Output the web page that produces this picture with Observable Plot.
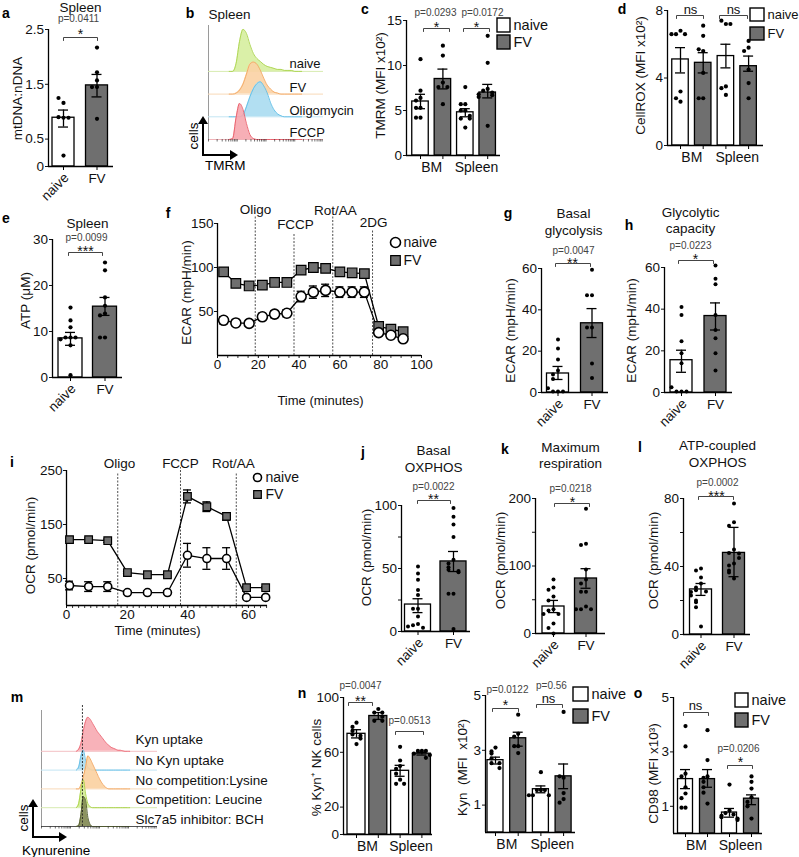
<!DOCTYPE html>
<html><head><meta charset="utf-8">
<script src="https://cdn.jsdelivr.net/npm/d3@7"></script>
<script src="https://cdn.jsdelivr.net/npm/@observablehq/plot@0.6"></script>
<style>
body{margin:0;background:#fff;}
#fig{position:relative;width:799px;height:857px;overflow:hidden;background:#fff;font-family:"Liberation Sans",Arial,Helvetica,sans-serif;}
#fig svg{position:absolute;overflow:visible;max-width:none;}
</style></head><body><div id="fig"></div>
<script>
// ================= DATA =================
const conds = ["naive", "FV"];
const tissues = ["BM", "Spleen"];
// a: mtDNA:nDNA, spleen
const aDots = [[1.16,1.25,0.89,0.90,0.89,0.20],[2.17,1.72,1.57,1.45,1.45,0.87]];
const aMean = [0.89,1.48];
const aErr = [[0.72,1.03],[1.27,1.68]];
// b: TMRM histograms (counts on a common fluorescence grid)
const bGrid = [18,21,24,27,30,33,36,39,42,45,48,51,54,57,60,63,66,69,72,75,78,81];
const bNaive = [0,0,8,30,42,38,27,18,13,10,7,5,4,3,2,2,1,1,1,0,0,0];
const bFV    = [0,0,1,4,10,20,30,32,30,24,16,9,5,2,1,0,0,0,0,0,0,0];
const bOligo = [0,0,0,0,2,10,20,28,33,35,31,24,14,7,3,1,0,0,0,0,0,0];
const bFCCP  = [0,1,22,36,30,16,5,1,0,0,0,0,0,0,0,0,0,0,0,0,0,0];
const bLabels = ["naive","FV","Oligomycin","FCCP"];
// c: TMRM MFI (order: naive BM, FV BM, naive Spleen, FV Spleen)
const cDots = [[10.7,7.2,6.4,6.1,5.3,5.3,4.2,4.2],[12.2,11.1,8.1,7.6,7.6,5.7],[7.6,5.7,5.7,5.0,5.0,4.4,4.1,4.1,3.1],[13.3,10.3,7.4,7.2,7.0,6.7,6.8,6.5,3.3]];
const cMean = [6.0,8.5,4.8,7.0];
const cErr = [[5.2,6.8],[7.4,9.6],[4.3,5.2],[6.4,7.9]];
const cP = ["p=0.0293","p=0.0172"];
// d: CellROX
const dDots = [[6.8,6.6,6.6,6.6,3.2,2.6,2.8],[7.1,6.5,5.6,5.7,4.3,2.8,2.8],[7.2,7.4,7.2,3.5,3.4,3.0],[6.2,5.8,5.6,4.5,3.7,2.8]];
const dMean = [5.1,4.9,5.3,4.7];
const dErr = [[4.3,5.8],[4.3,5.5],[4.6,6.0],[4.4,5.3]];
// e: ATP
const eDots = [[15.2,12.4,10.9,8.7,8.7,8.7,8.3,7.0,0.5],[25,23.3,17.4,15.6,13.9,13.5,8.7,8.7]];
const eMean = [8.5,15.4];
const eErr = [[7.0,9.8],[13.5,17.4]];
// f: ECAR time course
const fTime = [3,9,15.5,22,28,34,41,47,53,60,66,72,79,85,91];
const fNaive = [40,37,36.5,44,47,48,67,72,74,72,72,72,26,23,19];
const fNaiveErr = [4,3,3,4,4,4,6,7,7,6,6,6,3,3,3];
const fFV = [95,82,79,80,83,83,97,100,99,95,94,93,33,30,27];
const fFVErr = [3,2,2,2,2,2,2,2,2,2,2,2,2,2,2];
const fInj = ["Oligo","FCCP","Rot/AA","2DG"];
const fInjTime = [18.5,37.5,56.5,76];
// g: basal glycolysis
const gDots = [[25.6,21.3,16,10.6,8.7,6.5,0.5,0.5,0.5,2],[59.4,47,47,31.4,31.4,14,7]];
const gMean = [9.2,33.5];
const gErr = [[6.3,12.6],[26.6,40.6]];
// h: glycolytic capacity
const hDots = [[41,37.2,24.6,18.8,14,0.5,0.5,0.5,2.5],[61,52,54.6,37.2,30,26,18.8,10.6]];
const hMean = [15.5,36.7];
const hErr = [[9.7,20.3],[30,43]];
// i: OCR time course
const iTime = [1,7.3,13.6,20.1,26.7,33.3,39.9,46.3,52.8,59.4,65.7];
const iNaive = [37,35,35,24,24,24,93,87,87,15,15];
const iNaiveErr = [8,9,9,3,3,3,22,20,20,2,2];
const iFV = [122,122,120,61,57,57,202,183,165,33,33];
const iFVErr = [3,3,3,2,2,2,12,9,7,2,2];
const iInj = ["Oligo","FCCP","Rot/AA"];
const iInjTime = [16.9,37.6,56];
// j: basal OXPHOS
const jDots = [[51.6,46,41,33,29,18,18,12,6,5,3,4],[98,91,85,75,57,54,51,49,48,47,30,30,2]];
const jMean = [21.4,55.6];
const jErr = [[15,26],[47.6,63.5]];
// k: maximum respiration
const kDots = [[80,68,65,55,49,36,34,29,29,15,8,0],[185,133,131,95,80,74,62,62,40,36,36,36]];
const kMean = [40,81.5];
const kErr = [[31,49],[67,96]];
// l: ATP-coupled OXPHOS
const lDots = [[38.8,37.6,33.5,30,27.6,26,25.3,25,23,20,19,16,4.7],[77,66,64,50,48,47.6,45,41.8,40.6,37.6,36.5,33]];
const lMean = [26.5,48];
const lErr = [[23,30],[34,63]];
// m: kynurenine histograms
const mGrid = [30,32,34,36,38,40,42,44,46,48,50,52,54,56,58,60,62,64,66,68,70,72,74,76];
const mKyn    = [0,2,8,20,30,34,32,28,24,20,17,14,11,8,6,4,3,2,1,1,0.5,0,0,0];
const mNoKyn  = [0,3,14,20,10,3,1,0,0,0,0,0,0,0,0,0,0,0,0,0,0,0,0,0];
const mNoComp = [0,0,4,12,22,33,30,25,20,15,10,6,3,1,0,0,0,0,0,0,0,0,0,0];
const mComp   = [0,4,18,28,14,4,1,0,0,0,0,0,0,0,0,0,0,0,0,0,0,0,0,0];
const mSlc    = [0,1,12,30,26,9,2,0,0,0,0,0,0,0,0,0,0,0,0,0,0,0,0,0];
const mLabels = ["Kyn uptake","No Kyn uptake","No competition:Lysine","Competition: Leucine","Slc7a5 inhibitor: BCH"];
const mGate = 35.3;
// n (left): % Kyn+ NK cells
const n1Dots = [[81.6,78.5,75.6,73,72,70,66],[91.6,89,89,86,83,83],[64,54,50,48,44.4,40,37,37],[61,61,61,59,58,56]];
const n1Mean = [73.5,86.5,46.5,59];
const n1Err = [[70.5,76.5],[84,89],[42.5,50.5],[58,60]];
// n (right): Kyn MFI
const n2Dots = [[3.1,2.96,2.88,2.7,2.53,2.53,2.35],[4.3,3.6,3.5,3.15,3.15,2.9],[2.2,1.55,1.55,1.55,1.36,1.36,1.36],[4.4,2.0,2.05,1.44,1.22,1.09]];
const n2Mean = [2.64,3.44,1.58,2.05];
const n2Err = [[2.5,2.75],[3.15,3.66],[1.45,1.7],[1.6,2.5]];
// o: CD98
const oDots = [[3.95,3.2,2.2,2.1,1.7,1.47,1.3,0.95,0.95],[3.8,2.7,2.1,2.05,1.9,1.7,1.5,1.1],[1.8,0.85,0.75,0.7,0.65,0.6,0.55,0.5],[2.1,1.9,1.65,1.33,1.16,1.0,0.55]];
const oMean = [2.0,2.0,0.77,1.28];
const oErr = [[1.65,2.35],[1.7,2.35],[0.6,0.92],[1.06,1.42]];

// ================= HELPERS =================
const FONT = '"Liberation Sans", Arial, Helvetica, sans-serif';
const GRAY = "#6f6f6f";
const fig = document.getElementById("fig");

function conv(f) {
  const sx = (f.xdom[1]-f.xdom[0])/(f.x1-f.x0), sy = (f.ydom[1]-f.ydom[0])/(f.y0-f.y1);
  return { X: px => f.xdom[0] + (px - f.x0)*sx, Y: py => f.ydom[0] + (f.y0 - py)*sy,
           DX: px => px*sx, DY: py => py*sy };
}
function render(f, marks, xo, yo, fs) {
  const M = 40;
  const svg = Plot.plot({
    width: f.x1 - f.x0 + 2*M, height: f.y0 - f.y1 + 2*M,
    marginLeft: M, marginRight: M, marginTop: M, marginBottom: M,
    style: {background: "transparent", overflow: "visible", fontFamily: FONT, fontSize: (fs||13.5) + "px", color: "#111"},
    x: Object.assign({domain: f.xdom, axis: null}, xo || {}),
    y: Object.assign({domain: f.ydom, axis: null}, yo || {}),
    marks
  });
  svg.style.position = "absolute";
  svg.style.left = (f.x0 - M) + "px";
  svg.style.top = (f.y1 - M) + "px";
  fig.appendChild(svg);
}
function texts(C, items, o) {
  return Plot.text(items.map(([t, px, py]) => ({t, x: C.X(px), y: C.Y(py)})),
    Object.assign({x: "x", y: "y", text: "t", fill: "#111"}, o || {}));
}
function bracket(C, xa, xb, py, drop) {
  const d = drop == null ? 3 : drop;
  return Plot.line([[C.X(xa), C.Y(py + d)], [C.X(xa), C.Y(py)], [C.X(xb), C.Y(py)], [C.X(xb), C.Y(py + d)]],
    {x: d => d[0], y: d => d[1], stroke: "#444", strokeWidth: 1});
}
function box(C, x1, x2, y1, y2, fill) {
  return Plot.rect([{}], {x1: () => C.X(x1), x2: () => C.X(x2), y1: () => C.Y(y2), y2: () => C.Y(y1),
    fill, stroke: "black", strokeWidth: 1.4});
}
function jitter(vals, tol, spread) {
  const placed = [];
  const pat = [0, -1, 1, -2, 2, -3, 3];
  return vals.map(v => {
    const n = placed.filter(u => Math.abs(u - v) < tol).length;
    placed.push(v);
    return (pat[n] ?? 0) * spread;
  });
}
const STAR = 14;
function barPanel(p) {
  const f = {x0: p.x0, x1: p.x1, y0: p.y0, y1: p.y1,
    xdom: [(p.x0 - p.c0)/p.step, (p.x1 - p.c0)/p.step], ydom: [0, p.ymax]};
  const C = conv(f);
  const hw = C.DX(p.bw/2), cap = C.DX(p.cap || 5), lw = 1.3;
  const bars = p.means.map((m, i) => ({i, m, lo: p.errs[i][0], hi: p.errs[i][1], fv: i % 2 === 1}));
  const pts = [];
  p.dots.forEach((vals, i) => {
    const off = jitter(vals, p.ymax*0.04, C.DX(p.spread || 5));
    vals.forEach((v, k) => pts.push({x: i + off[k], v}));
  });
  const marks = [
    Plot.rect(bars.filter(d => !d.fv), {x1: d => d.i - hw, x2: d => d.i + hw, y1: () => 0, y2: "m", fill: "white", stroke: "black", strokeWidth: lw}),
    Plot.rect(bars.filter(d => d.fv), {x1: d => d.i - hw, x2: d => d.i + hw, y1: () => 0, y2: "m", fill: GRAY, stroke: "black", strokeWidth: lw}),
    Plot.ruleX(bars, {x: "i", y1: "lo", y2: "hi", stroke: "black", strokeWidth: lw}),
    Plot.ruleY(bars, {y: "hi", x1: d => d.i - cap, x2: d => d.i + cap, stroke: "black", strokeWidth: lw}),
    Plot.ruleY(bars, {y: "lo", x1: d => d.i - cap, x2: d => d.i + cap, stroke: "black", strokeWidth: lw}),
    Plot.dot(pts, {x: "x", y: "v", r: p.r || 2.1, fill: "black"}),
    Plot.ruleX([f.xdom[0]], {stroke: "black", strokeWidth: lw}),
    Plot.ruleY([0], {stroke: "black", strokeWidth: lw}),
    Plot.ruleX(bars, {x: "i", y1: () => 0, y2: () => -C.DY(4), stroke: "black", strokeWidth: 1})
  ];
  // category labels
  if (p.means.length === 2) {
    marks.push(Plot.text([{x: C.DX(3), y: C.Y(p.y0 + 9)}], {x: "x", y: "y", text: () => conds[0], rotate: -45, textAnchor: "end", fontSize: 13.5, fill: "#111"}));
    marks.push(Plot.text([{x: 1, y: C.Y(p.y0 + 12)}], {x: "x", y: "y", text: () => conds[1], fontSize: 13.5, fill: "#111"}));
  } else {
    marks.push(Plot.text(tissues.map((t, g) => ({t, x: 2*g + 0.5, y: C.Y(p.y0 + 12)})), {x: "x", y: "y", text: "t", fontSize: 14, fill: "#111"}));
  }
  if (p.ylabel) marks.push(texts(C, [p.ylabel], {rotate: -90, fontSize: 13.5}));
  if (p.titles) marks.push(texts(C, p.titles, {fontSize: 13.5}));
  if (p.pvals) marks.push(texts(C, p.pvals, {fontSize: 10, fill: "#444"}));
  if (p.stars) marks.push(texts(C, p.stars.map(([t, x, y]) => [t, x, y + 4]), {fontSize: STAR}));
  if (p.ns) marks.push(texts(C, p.ns, {fontSize: 13}));
  (p.brackets || []).forEach(b => marks.push(bracket(C, b[0], b[1], b[2])));
  if (p.legend) {
    const L = p.legend;
    marks.push(box(C, L.x, L.x + L.w, L.y1, L.y1 + L.h, "white"));
    marks.push(box(C, L.x, L.x + L.w, L.y2, L.y2 + L.h, GRAY));
    marks.push(texts(C, [[conds[0], L.x + L.w + 3, L.y1 + L.h/2], [conds[1], L.x + L.w + 3, L.y2 + L.h/2]], {textAnchor: "start", fontSize: L.fs || 14.5}));
  }
  render(f, marks, null,
    {axis: "left", ticks: p.ticks, tickSize: 3, tickPadding: 1.5, label: null, tickFormat: p.fmt || (d => String(d))});
}

function linePanel(p) {
  const f = {x0: p.x0, x1: p.x1, y0: p.y0, y1: p.y1, xdom: [0, p.xmax], ydom: [0, p.ymax]};
  const C = conv(f);
  const nv = p.time.map((t, k) => ({t, v: p.naive[k], e: p.naiveErr[k]}));
  const fv = p.time.map((t, k) => ({t, v: p.fv[k], e: p.fvErr[k]}));
  const cap = C.DX(4);
  const inj = p.injT.map((t, k) => ({t, top: C.Y(p.injTop[k])}));
  const minors = d3.range(0, p.xmax + 0.001, p.minor).filter(t => !p.xticks.includes(t));
  const lw = 1.3;
  const eb = (data) => [
    Plot.ruleX(data, {x: "t", y1: d => d.v - d.e, y2: d => d.v + d.e, stroke: "black", strokeWidth: lw}),
    Plot.ruleY(data, {y: d => d.v + d.e, x1: d => d.t - cap, x2: d => d.t + cap, stroke: "black", strokeWidth: lw}),
    Plot.ruleY(data, {y: d => d.v - d.e, x1: d => d.t - cap, x2: d => d.t + cap, stroke: "black", strokeWidth: lw})
  ];
  const marks = [
    Plot.ruleX(inj, {x: "t", y1: () => 0, y2: "top", stroke: "#222", strokeWidth: 0.8, strokeDasharray: "2,1.5"}),
    Plot.ruleX(minors, {x: d => d, y1: () => 0, y2: () => -C.DY(3), stroke: "black", strokeWidth: 0.8}),
    Plot.ruleX([0], {stroke: "black", strokeWidth: lw}),
    Plot.ruleY([0], {stroke: "black", strokeWidth: lw}),
    ...eb(fv), ...eb(nv),
    Plot.line(fv, {x: "t", y: "v", stroke: "black", strokeWidth: lw}),
    Plot.line(nv, {x: "t", y: "v", stroke: "black", strokeWidth: lw}),
    Plot.dot(fv, {x: "t", y: "v", symbol: "square", r: p.sq, fill: GRAY, stroke: "black", strokeWidth: 1.2}),
    Plot.dot(nv, {x: "t", y: "v", r: p.rc, fill: "white", stroke: "black", strokeWidth: 1.6}),
    Plot.dot([{}], {x: () => C.X(p.leg[0]), y: () => C.Y(p.leg[1]), r: p.rc, fill: "white", stroke: "black", strokeWidth: 1.6}),
    Plot.dot([{}], {x: () => C.X(p.leg[0]), y: () => C.Y(p.leg[2]), symbol: "square", r: p.sq, fill: GRAY, stroke: "black", strokeWidth: 1.2}),
    texts(C, [[conds[0], p.leg[0] + 8, p.leg[1]], [conds[1], p.leg[0] + 8, p.leg[2]]], {textAnchor: "start", fontSize: 14}),
    texts(C, p.injLabels, {fontSize: 13.5}),
    texts(C, [p.xlabel], {fontSize: 13}),
    texts(C, [p.ylabel], {rotate: -90, fontSize: 13.5})
  ];
  render(f, marks,
    {axis: "bottom", ticks: p.xticks, tickSize: 3, tickPadding: 1, label: null, tickFormat: d => String(d)},
    {axis: "left", ticks: p.yticks, tickSize: 3, tickPadding: 1, label: null, tickFormat: d => String(d)});
}

function histPanel(p) {
  const f = {x0: p.x0, x1: p.x1, y0: p.y0, y1: p.y1, xdom: [0, 100], ydom: [0, p.y0 - p.y1]};
  const C = conv(f);
  const n = p.tracks.length;
  const marks = [Plot.ruleX([0], {stroke: "#9a9a9a", strokeWidth: 1})];
  p.tracks.forEach((tr, idx) => {
    const base = (n - 1 - idx) * p.gap;
    const rows = p.grid.map((u, k) => ({u, lo: base, hi: base + tr.h[k]}));
    marks.push(Plot.ruleY([base], {stroke: tr.base, strokeWidth: 1}));
    marks.push(Plot.areaY(rows, {x: "u", y1: "lo", y2: "hi", fill: tr.fill, fillOpacity: 0.9, curve: "monotone-x"}));
    marks.push(Plot.line(rows, {x: "u", y: "hi", stroke: tr.stroke, strokeWidth: 0.9, curve: "monotone-x"}));
  });
  const lt = [];
  for (let dec = 0; dec < 4; dec++) for (let k = 1; k < 10; k++) lt.push(25*dec + 25*Math.log10(k));
  marks.push(Plot.ruleX(lt.filter(v => v <= 100), {x: d => d, y1: () => 0, y2: () => -C.DY(2.5), stroke: "#333", strokeWidth: 0.7}));
  if (p.gate != null) marks.push(Plot.ruleX([p.gate], {x: d => d, y1: () => 0, y2: () => C.Y(p.gateTop), stroke: "#222", strokeWidth: 0.9, strokeDasharray: "2,1.5"}));
  marks.push(texts(C, p.labels, {textAnchor: "start", fontSize: p.fs}));
  if (p.title) marks.push(texts(C, [p.title], {textAnchor: "start", fontSize: 13.5}));
  render(f, marks);
}

// ================= PANELS =================
barPanel({x0: 48, x1: 113, y0: 166, y1: 29, ymax: 2.5, ticks: [0, 0.5, 1.5, 2.5], c0: 63, step: 33.5, bw: 22,
  dots: aDots, means: aMean, errs: aErr,
  titles: [["Spleen", 80, 7]], pvals: [["p=0.0411", 78, 18.5]], stars: [["*", 80, 30]], brackets: [[63, 97, 37]],
  ylabel: ["mtDNA:nDNA", 17, 98]});

histPanel({x0: 208, x1: 323, y0: 139, y1: 25, gap: 22.7, grid: bGrid, fs: 13,
  tracks: [
    {h: bNaive, fill: "#d6ee9e", stroke: "#a9d24c", base: "#d7ebb0"},
    {h: bFV, fill: "#fbd2a4", stroke: "#f3a660", base: "#f8d9b8"},
    {h: bOligo, fill: "#aadcf1", stroke: "#5ebde6", base: "#c3e5f3"},
    {h: bFCCP, fill: "#f6a6ae", stroke: "#e85a66", base: "#f0b3b8"}],
  labels: [[bLabels[0], 289, 63], [bLabels[1], 289, 87], [bLabels[2], 289, 110], [bLabels[3], 289, 132]],
  title: ["Spleen", 208, 14]});

barPanel({x0: 406, x1: 500, y0: 155, y1: 20, ymax: 15, ticks: [0, 5, 10, 15], c0: 420, step: 22.4, bw: 16.5, spread: 4.5,
  dots: cDots, means: cMean, errs: cErr,
  pvals: [[cP[0], 435, 12], [cP[1], 482, 12]], stars: [["*", 436, 23], ["*", 476, 23]],
  brackets: [[423, 449, 28], [463, 489, 28]],
  legend: {x: 497, w: 13, h: 14, y1: 18, y2: 35},
  ylabel: ["TMRM (MFI x10²)", 380, 85]});

barPanel({x0: 667, x1: 763, y0: 145, y1: 10, ymax: 8, ticks: [0, 4, 8], c0: 680, step: 22.7, bw: 16.5, spread: 4.5,
  dots: dDots, means: dMean, errs: dErr,
  ns: [["ns", 690, 9], ["ns", 733, 9]], brackets: [[676, 703, 15], [719, 747, 15]],
  legend: {x: 750, w: 14, h: 13, y1: 8, y2: 27, fs: 13},
  ylabel: ["CellROX (MFI x10²)", 640, 75]});

barPanel({x0: 52, x1: 122, y0: 377, y1: 239, ymax: 30, ticks: [0, 10, 20, 30], c0: 70, step: 34.5, bw: 24,
  dots: eDots, means: eMean, errs: eErr,
  titles: [["Spleen", 87, 223]], pvals: [["p=0.0099", 86, 237]], stars: [["***", 85, 247]], brackets: [[68, 102, 252]],
  ylabel: ["ATP (μM)", 25, 300]});

linePanel({x0: 217, x1: 421, y0: 355, y1: 223, xmax: 100, ymax: 150,
  time: fTime, naive: fNaive, naiveErr: fNaiveErr, fv: fFV, fvErr: fFVErr,
  injT: fInjTime, injTop: [216, 233, 216, 229],
  injLabels: [[fInj[0], 255, 209], [fInj[1], 295, 224], [fInj[2], 335, 210], [fInj[3], 373, 222]],
  leg: [395, 242, 260], xlabel: ["Time (minutes)", 320, 400], ylabel: ["ECAR (mpH/min)", 186, 292],
  xticks: [0, 20, 40, 60, 80, 100], yticks: [50, 100, 150], minor: 5, rc: 5, sq: 5.4});

barPanel({x0: 541, x1: 608, y0: 392, y1: 268, ymax: 60, ticks: [0, 20, 40, 60], c0: 557.5, step: 34, bw: 22, r: 2,
  dots: gDots, means: gMean, errs: gErr,
  titles: [["Basal", 573, 213], ["glycolysis", 573, 230]], pvals: [["p=0.0047", 573, 250]],
  stars: [["**", 572, 259]], brackets: [[555, 590, 263]],
  ylabel: ["ECAR (mpH/min)", 510, 330]});

barPanel({x0: 664, x1: 732, y0: 392, y1: 267, ymax: 60, ticks: [0, 20, 40, 60], c0: 681, step: 34, bw: 22, r: 2,
  dots: hDots, means: hMean, errs: hErr,
  titles: [["Glycolytic", 690, 212], ["capacity", 690, 228]], pvals: [["p=0.0223", 690, 245]],
  stars: [["*", 695, 255]], brackets: [[678, 713, 260]],
  ylabel: ["ECAR (mpH/min)", 631, 330]});

linePanel({x0: 66, x1: 267, y0: 605, y1: 470, xmax: 66.3, ymax: 250,
  time: iTime, naive: iNaive, naiveErr: iNaiveErr, fv: iFV, fvErr: iFVErr,
  injT: iInjTime, injTop: [473, 467, 472],
  injLabels: [[iInj[0], 119, 463], [iInj[1], 180, 463], [iInj[2], 233, 463]],
  leg: [257, 477, 494], xlabel: ["Time (minutes)", 157, 630], ylabel: ["OCR (pmol/min)", 30, 545],
  xticks: [0, 20, 40, 60], yticks: [50, 150, 250], minor: 2, rc: 4, sq: 4.3});

barPanel({x0: 401, x1: 470, y0: 631, y1: 505, ymax: 100, ticks: [0, 25, 50, 75, 100], fmt: d => d % 50 === 0 ? String(d) : "",
  c0: 417.5, step: 35.5, bw: 26, r: 2,
  dots: jDots, means: jMean, errs: jErr,
  titles: [["Basal", 433, 450], ["OXPHOS", 433, 467]], pvals: [["p=0.0022", 433, 486]],
  stars: [["**", 433, 495]], brackets: [[417, 450, 500]],
  ylabel: ["OCR (pmol/min)", 366, 557]});

barPanel({x0: 535, x1: 605, y0: 633, y1: 498, ymax: 200, ticks: [0, 50, 100, 150, 200], fmt: d => d % 100 === 0 ? String(d) : "",
  c0: 553, step: 32.5, bw: 22, r: 2,
  dots: kDots, means: kMean, errs: kErr,
  titles: [["Maximum", 570, 447], ["respiration", 570, 463]], pvals: [["p=0.0218", 570, 488]],
  stars: [["*", 572, 498]], brackets: [[554, 589, 503]],
  ylabel: ["OCR (pmol/min)", 500, 560]});

barPanel({x0: 683, x1: 750, y0: 634, y1: 498, ymax: 80, ticks: [0, 20, 40, 60, 80], fmt: d => d % 40 === 0 ? String(d) : "",
  c0: 700.5, step: 33, bw: 22, r: 2,
  dots: lDots, means: lMean, errs: lErr,
  titles: [["ATP-coupled", 717, 445], ["OXPHOS", 717, 462]], pvals: [["p=0.0002", 717, 482]],
  stars: [["***", 716, 492]], brackets: [[698, 733, 496]],
  ylabel: ["OCR (pmol/min)", 653, 560]});

histPanel({x0: 41, x1: 157, y0: 826, y1: 710, gap: 18.8, grid: mGrid, fs: 13.5,
  tracks: [
    {h: mKyn, fill: "#f7aab1", stroke: "#ec6b77", base: "#f3c0c4"},
    {h: mNoKyn, fill: "#a9daf0", stroke: "#62bde6", base: "#c3e5f3"},
    {h: mNoComp, fill: "#fbd0a0", stroke: "#f2a45c", base: "#f8d9b8"},
    {h: mComp, fill: "#d3ec96", stroke: "#a7d03f", base: "#d7ebb0"},
    {h: mSlc, fill: "#7f8750", stroke: "#4f5a2a", base: "#555555"}],
  gate: mGate, gateTop: 705,
  labels: [[mLabels[0], 135, 739], [mLabels[1], 135, 760], [mLabels[2], 135, 780], [mLabels[3], 135, 799], [mLabels[4], 135, 819]]});

barPanel({x0: 343, x1: 432, y0: 834, y1: 697, ymax: 100, ticks: [0, 20, 60, 100], c0: 356, step: 21.8, bw: 18, spread: 4,
  dots: n1Dots, means: n1Mean, errs: n1Err,
  pvals: [["p=0.0047", 360, 685], ["p=0.0513", 409, 720]], stars: [["**", 360, 697]],
  brackets: [[348, 372, 702], [395, 423, 731]],
  ylabel: ["% Kyn⁺ NK cells", 316, 767]});

barPanel({x0: 485, x1: 575, y0: 832, y1: 695, ymax: 5, ticks: [1, 3, 5], c0: 495, step: 22.7, bw: 16, spread: 4,
  dots: n2Dots, means: n2Mean, errs: n2Err,
  pvals: [["p=0.0122", 507, 689], ["p=0.56", 551, 685]], stars: [["*", 505, 701]], ns: [["ns", 548, 698]],
  brackets: [[492, 518, 708], [536, 562, 704]],
  legend: {x: 573, w: 15, h: 14, y1: 687, y2: 709},
  ylabel: ["Kyn  (MFI  x10²)", 462, 767]});

barPanel({x0: 673, x1: 762, y0: 833, y1: 697, ymax: 5, ticks: [1, 3, 5], c0: 685, step: 22, bw: 15, spread: 4,
  dots: oDots, means: oMean, errs: oErr,
  pvals: [["p=0.0206", 738, 748]], stars: [["*", 740, 758]], ns: [["ns", 695, 705]],
  brackets: [[683, 708, 712], [727, 752, 765]],
  legend: {x: 735, w: 13, h: 14, y1: 693, y2: 713},
  ylabel: ["CD98 (MFI x10³)", 653, 773]});

// ================= OVERLAY: panel letters, axis arrows =================
const ov = d3.select(fig).append("svg").attr("width", 799).attr("height", 857)
  .style("left", "0px").style("top", "0px").style("font-family", FONT);
const letters = [["a",6,13],["b",190,13],["c",365,9],["d",622,9],["e",6,218],["f",168,213],["g",508,213],["h",629,225],
  ["i",12,462],["j",363,452],["k",505,449],["l",640,447],["m",17,697],["n",302,693],["o",638,693]];
ov.selectAll("text.lt").data(letters).join("text").attr("class", "lt")
  .attr("x", d => d[1]).attr("y", d => d[2]).attr("dy", "0.35em").attr("text-anchor", "middle")
  .attr("font-weight", "bold").attr("font-size", 14).text(d => d[0]);
function arrow(x1, y1, x2, y2) {
  const a = Math.atan2(y2 - y1, x2 - x1), L = 8, W = 5;
  const bx = x2 - L*Math.cos(a), by = y2 - L*Math.sin(a);
  ov.append("line").attr("x1", x1).attr("y1", y1).attr("x2", bx).attr("y2", by).attr("stroke", "black").attr("stroke-width", 2);
  ov.append("path").attr("d", `M${x2},${y2}L${bx - W*Math.sin(a)},${by + W*Math.cos(a)}L${bx + W*Math.sin(a)},${by - W*Math.cos(a)}Z`).attr("fill", "black");
}
arrow(203, 156, 203, 116); arrow(202, 155, 238, 155);
arrow(33, 838, 33, 799); arrow(32, 837, 67, 837);
const axTxt = [["cells", 193, 136, -90, "middle"], ["TMRM", 205, 165, 0, "start"], ["cells", 23, 818, -90, "middle"], ["Kynurenine", 22, 850, 0, "start"]];
ov.selectAll("text.ax").data(axTxt).join("text").attr("class", "ax")
  .attr("transform", d => `translate(${d[1]},${d[2]}) rotate(${d[3]})`).attr("dy", "0.35em")
  .attr("text-anchor", d => d[4]).attr("font-size", 13.5).text(d => d[0]);
</script></body></html>
